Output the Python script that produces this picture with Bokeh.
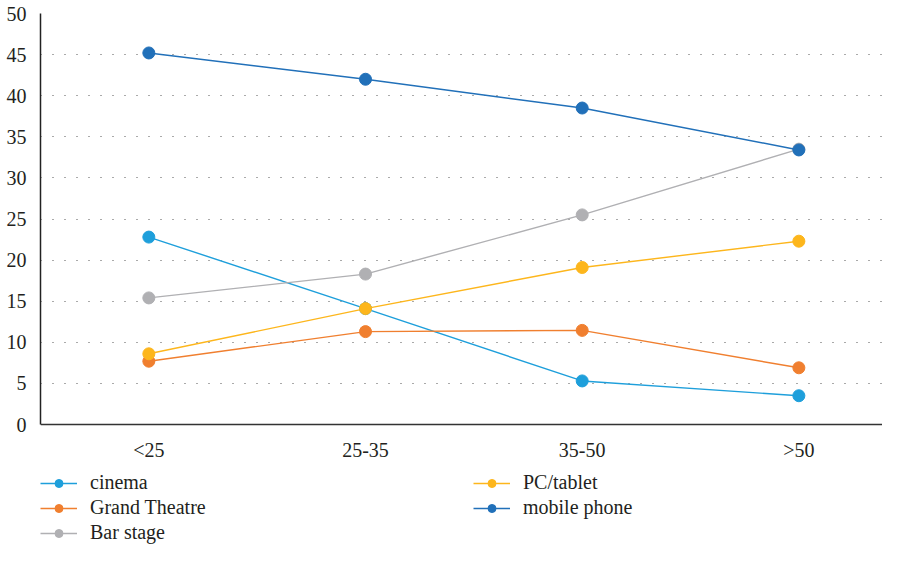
from bokeh.plotting import figure
from bokeh.models import Range1d, Legend, LegendItem, FixedTicker
from bokeh.embed import file_html
from bokeh.resources import INLINE

categories = ["<25", "25-35", "35-50", ">50"]
series_names = ["cinema", "Grand Theatre", "Bar stage", "PC/tablet", "mobile phone"]
cinema = [22.8, 14.1, 5.3, 3.5]
grand_theatre = [7.7, 11.3, 11.45, 6.9]
bar_stage = [15.4, 18.3, 25.5, 33.5]
pc_tablet = [8.6, 14.1, 19.1, 22.3]
mobile_phone = [45.2, 42.0, 38.5, 33.4]
y_ticks = [0, 5, 10, 15, 20, 25, 30, 35, 40, 45, 50]
colors = ["#1e9fdb", "#f07f2f", "#b0b0b3", "#fdb61c", "#2170b9"]
all_series = [cinema, grand_theatre, bar_stage, pc_tablet, mobile_phone]

FONT = "Liberation Serif"
FS = "20px"

x_idx = list(range(len(categories)))

p = figure(width=882, height=545, output_backend="svg", toolbar_location=None,
           x_range=Range1d(-0.5, 3.386), y_range=Range1d(-14.72, 50),
           min_border_left=40, min_border_right=0, min_border_top=13, min_border_bottom=0)
p.outline_line_color = None
p.background_fill_color = "white"

# axes
p.xaxis.ticker = FixedTicker(ticks=x_idx)
p.xaxis.major_label_overrides = {i: c for i, c in enumerate(categories)}
p.xaxis.fixed_location = 0
p.yaxis.ticker = FixedTicker(ticks=y_ticks)
p.yaxis.bounds = (0, 50)
for ax in (p.xaxis[0], p.yaxis[0]):
    ax.major_tick_line_color = None
    ax.minor_tick_line_color = None
    ax.major_label_text_font = FONT
    ax.major_label_text_font_size = FS
    ax.major_label_text_color = "#231f20"
    ax.axis_line_color = "#333333"
    ax.axis_line_width = 1.5
    ax.major_label_standoff = 8
p.yaxis.axis_line_color = "#222222"

p.xgrid.grid_line_color = None
p.ygrid.ticker = FixedTicker(ticks=y_ticks[1:])
p.ygrid.grid_line_color = "#555555"
p.ygrid.grid_line_dash = "1 11"
p.ygrid.grid_line_width = 1.2

items = []
for name, vals, col in zip(series_names, all_series, colors):
    l = p.line(x_idx, vals, line_color=col, line_width=1.4)
    s = p.scatter(x_idx, vals, size=12, fill_color=col, line_color=col)
    items.append(LegendItem(label=name, renderers=[l, s]))

def make_legend(its, loc):
    lg = Legend(items=its, location=loc, orientation="vertical")
    lg.border_line_color = None
    lg.background_fill_alpha = 0
    lg.padding = 0
    lg.margin = 0
    lg.spacing = 2
    lg.glyph_width = 37
    lg.glyph_height = 20
    lg.label_height = 20
    lg.label_standoff = 13
    lg.label_text_font = FONT
    lg.label_text_font_size = FS
    lg.label_text_color = "#231f20"
    lg.label_text_baseline = "middle"
    return lg

p.add_layout(make_legend(items[:3], (0, 1)))
p.add_layout(make_legend(items[3:], (433, 26)))

open("out.html", "w").write(file_html(p, INLINE))
